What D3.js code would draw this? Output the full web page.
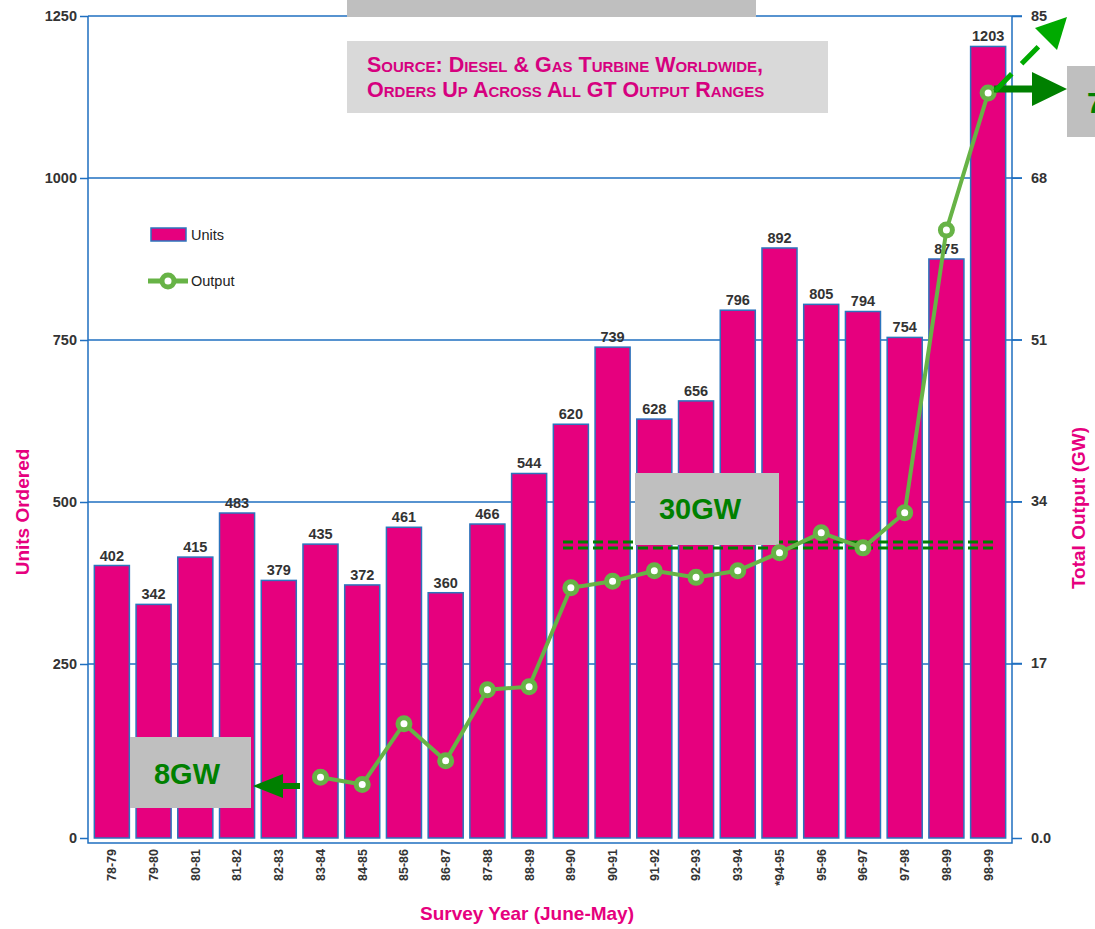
<!DOCTYPE html>
<html>
<head>
<meta charset="utf-8">
<script src="https://cdn.jsdelivr.net/npm/d3@7/dist/d3.min.js"></script>
<style>
  body { margin: 0; background: #fff; }
  svg { display: block; font-family: "Liberation Sans", Arial, sans-serif; }
</style>
</head>
<body>
<svg id="chart" width="1095" height="929"></svg>
<script>
const years = ["78-79", "79-80", "80-81", "81-82", "82-83", "83-84", "84-85", "85-86", "86-87", "87-88", "88-89",
  "89-90", "90-91", "91-92", "92-93", "93-94", "*94-95", "95-96", "96-97", "97-98", "98-99", "98-99"];
const units = [402, 342, 415, 483, 379, 435, 372, 461, 360, 466, 544, 620, 739, 628, 656, 796, 892, 805, 794, 754, 875, 1203];
// GW, no output reported before 83-84
const output = [null, null, null, null, null, 5.9, 5.2, 11.1, 7.5, 14.4, 14.7, 24.9, 25.6, 26.7, 26.0, 26.7, 28.6, 30.7, 29.1, 32.8, 62.5, 76.9];
const unitTicks = [0, 250, 500, 750, 1000, 1250];
const gwTicks = [0, 17, 34, 51, 68, 85];

const MAGENTA = "#e6007e";
const BLUE = "#1f6fc0";
const LINE_GREEN = "#67b346";
const DARK_GREEN = "#008000";

const svg = d3.select("#chart");
const plotL = 88, plotR = 1012, plotT = 16, base = 838, frameBottom = 843;

// the original's zero tick sits a little lower than the rest of the scale
const yL = d3.scaleLinear().domain([0, 250, 1250]).range([base, 664, plotT]);
const yR = d3.scaleLinear().domain([0, 17, 85]).range([base, 663, plotT]);
const x = d3.scaleBand().domain(d3.range(years.length)).range([91, 1009]).paddingInner(0.16).paddingOuter(0.08);

// gridlines
svg.append("g").selectAll("line").data(unitTicks.filter((d) => d > 0)).join("line")
  .attr("x1", plotL).attr("x2", 1022).attr("y1", (d) => yL(d)).attr("y2", (d) => yL(d))
  .attr("stroke", BLUE).attr("stroke-width", 1.5);

// bars
svg.append("g").selectAll("rect").data(units).join("rect")
  .attr("x", (d, i) => x(i)).attr("width", x.bandwidth())
  .attr("y", (d) => yL(d)).attr("height", (d) => base - yL(d))
  .attr("fill", MAGENTA).attr("stroke", "#2b74bd").attr("stroke-width", 1.5);

svg.append("g").selectAll("text").data(units).join("text")
  .attr("x", (d, i) => x(i) + x.bandwidth() / 2).attr("y", (d) => yL(d) - 5)
  .attr("text-anchor", "middle").attr("font-size", 14.5).attr("font-weight", "bold").attr("fill", "#333")
  .text((d) => d);

// frame
svg.append("path")
  .attr("d", `M${plotL},${plotT}V${frameBottom}H${plotR}V${plotT}`)
  .attr("fill", "none").attr("stroke", BLUE).attr("stroke-width", 1.5);

// axes
const axL = svg.append("g").attr("transform", `translate(${plotL},0)`)
  .call(d3.axisLeft(yL).tickValues(unitTicks).tickSize(8).tickPadding(3).tickFormat(d3.format("d")));
const axR = svg.append("g").attr("transform", `translate(${plotR},0)`)
  .call(d3.axisRight(yR).tickValues(gwTicks).tickSize(10).tickPadding(9).tickFormat((d) => (d === 0 ? "0.0" : d)));
const axX = svg.append("g").attr("transform", `translate(0,${frameBottom})`)
  .call(d3.axisBottom(x).tickSize(0).tickFormat((i) => years[i]));

[axL, axR, axX].forEach((g) => {
  g.select(".domain").remove();
  g.selectAll(".tick line").attr("stroke", BLUE).attr("stroke-width", 1.5);
  g.selectAll("text").attr("font-family", "Liberation Sans, Arial, sans-serif").attr("font-size", 14.5)
    .attr("font-weight", "bold").attr("fill", "#333");
});
axX.selectAll("text").attr("transform", "rotate(-90)").attr("text-anchor", "end")
  .attr("x", -6).attr("y", 0).attr("dy", "0.35em").attr("font-size", 12.5);

// axis titles
const title = (t, tx, ty, rot) => svg.append("text")
  .attr("transform", `translate(${tx},${ty}) rotate(${rot})`).attr("text-anchor", "middle")
  .attr("font-size", 19).attr("font-weight", "bold").attr("fill", MAGENTA).text(t);
title("Units Ordered", 29, 512, -90);
title("Total Output (GW)", 1085, 508, -90);
title("Survey Year (June-May)", 527, 920, 0);

// boxes at the top
svg.append("rect").attr("x", 347).attr("y", 0).attr("width", 409).attr("height", 17).attr("fill", "#bfbfbf");
svg.append("rect").attr("x", 347).attr("y", 41).attr("width", 481).attr("height", 72).attr("fill", "#d9d9d9");
const src = svg.append("text").attr("font-size", 21.5).attr("font-weight", "bold").attr("fill", "#d6007f")
  .style("font-variant", "small-caps");
src.append("tspan").attr("x", 367).attr("y", 72).text("Source: Diesel & Gas Turbine Worldwide,");
src.append("tspan").attr("x", 367).attr("y", 97).text("Orders Up Across All GT Output Ranges");

// legend
svg.append("rect").attr("x", 151).attr("y", 228).attr("width", 35).attr("height", 13)
  .attr("fill", MAGENTA).attr("stroke", "#2b74bd").attr("stroke-width", 1.5);
svg.append("text").attr("x", 191).attr("y", 240).attr("font-size", 14.5).attr("fill", "#222").text("Units");
svg.append("line").attr("x1", 148).attr("x2", 188).attr("y1", 281).attr("y2", 281)
  .attr("stroke", LINE_GREEN).attr("stroke-width", 5);
svg.append("circle").attr("cx", 168).attr("cy", 281).attr("r", 6).attr("fill", "#fff")
  .attr("stroke", LINE_GREEN).attr("stroke-width", 5);
svg.append("text").attr("x", 191).attr("y", 286).attr("font-size", 14.5).attr("fill", "#222").text("Output");

// 30GW annotation
const level30 = 29.4;
svg.append("g").selectAll("line").data([-3, 3]).join("line")
  .attr("x1", 563).attr("x2", 996).attr("y1", (d) => yR(level30) + d).attr("y2", (d) => yR(level30) + d)
  .attr("stroke", DARK_GREEN).attr("stroke-width", 3).attr("stroke-dasharray", "10,5");
svg.append("rect").attr("x", 635).attr("y", 473).attr("width", 144).attr("height", 72).attr("fill", "#bfbfbf");
svg.append("text").attr("x", 700).attr("y", 519).attr("text-anchor", "middle").attr("font-size", 29)
  .attr("font-weight", "bold").attr("fill", DARK_GREEN).text("30GW");

// output line
const pts = output.map((v, i) => ({ i, v })).filter((d) => d.v !== null);
const cx = (d) => x(d.i) + x.bandwidth() / 2;
svg.append("path").datum(pts)
  .attr("d", d3.line().x(cx).y((d) => yR(d.v)))
  .attr("fill", "none").attr("stroke", LINE_GREEN).attr("stroke-width", 4);
svg.append("g").selectAll("circle").data(pts).join("circle")
  .attr("cx", cx).attr("cy", (d) => yR(d.v)).attr("r", 6)
  .attr("fill", "#fff").attr("stroke", LINE_GREEN).attr("stroke-width", 5);

// 8GW annotation
svg.append("rect").attr("x", 130).attr("y", 737).attr("width", 121).attr("height", 71).attr("fill", "#bfbfbf");
svg.append("text").attr("x", 187).attr("y", 784).attr("text-anchor", "middle").attr("font-size", 29)
  .attr("font-weight", "bold").attr("fill", DARK_GREEN).text("8GW");
svg.append("line").attr("x1", 281).attr("x2", 300).attr("y1", 786).attr("y2", 786)
  .attr("stroke", DARK_GREEN).attr("stroke-width", 6);
svg.append("path").attr("d", "M253,786L283,774L283,798Z").attr("fill", DARK_GREEN);

// top right arrows and box (clipped at the page edge, as in the original)
const last = pts[pts.length - 1];
const lx = cx(last), ly = yR(last.v);
svg.append("line").attr("x1", lx + 6).attr("x2", 1034).attr("y1", ly - 4).attr("y2", ly - 4)
  .attr("stroke", DARK_GREEN).attr("stroke-width", 7);
svg.append("path").attr("d", `M1032,${ly - 21}L1067,${ly - 4}L1032,${ly + 13}Z`).attr("fill", DARK_GREEN);
svg.append("line").attr("x1", 995).attr("y1", 91).attr("x2", 1040).attr("y2", 45)
  .attr("stroke", "#00aa00").attr("stroke-width", 5).attr("stroke-dasharray", "24,14");
svg.append("path").attr("d", "M1035,28L1067,17L1057,50Z").attr("fill", "#00aa00");
svg.append("rect").attr("x", 1067).attr("y", 66).attr("width", 40).attr("height", 71).attr("fill", "#bfbfbf");
svg.append("text").attr("x", 1087).attr("y", 113).attr("font-size", 29)
  .attr("font-weight", "bold").attr("fill", DARK_GREEN).text("7");
</script>
</body>
</html>
